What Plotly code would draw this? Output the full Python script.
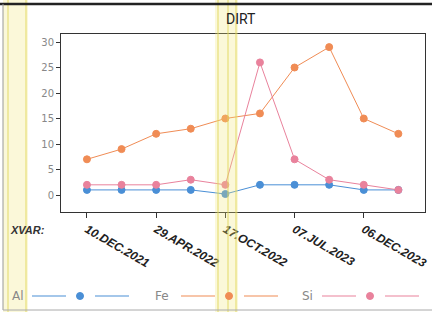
import plotly.graph_objects as go

# ---- data ----
x_idx = [0, 1, 2, 3, 4, 5, 6, 7, 8, 9]
tick_idx = [0, 2, 4, 6, 8]
tick_labels = ["10.DEC.2021", "29.APR.2022", "17.OCT.2022", "07.JUL.2023", "06.DEC.2023"]
al_vals = [1, 1, 1, 1, 0.2, 2, 2, 2, 1, 1]
fe_vals = [7, 9, 12, 13, 15, 16, 25, 29, 15, 12]
si_vals = [2, 2, 2, 3, 2, 26, 7, 3, 2, 1]
series_names = ["Al", "Fe", "Si"]
series_colors = ["#4a8fd6", "#f08c55", "#e9829c"]
series_vals = [al_vals, fe_vals, si_vals]

W, H = 432, 312
L, R, T, B = 61, 7, 34, 100
PW, PH = W - L - R, H - T - B


def px2paper_x(px):
    return (px - L) / PW


def px2paper_y(py):
    return (H - B - py) / PH


fig = go.Figure()
for name, col, vals in zip(series_names, series_colors, series_vals):
    fig.add_trace(go.Scatter(
        x=x_idx, y=vals, name=name, mode="lines+markers",
        line=dict(color=col, width=1),
        marker=dict(color=col, size=7, line=dict(color=col, width=1)),
        showlegend=False, cliponaxis=False,
    ))

shapes = []
# yellow highlight bands (scan artefacts)
for x0, x1 in [(3, 28), (215, 238)]:
    shapes.append(dict(type="rect", xref="paper", yref="paper",
                       x0=px2paper_x(x0), x1=px2paper_x(x1),
                       y0=px2paper_y(H), y1=px2paper_y(0),
                       fillcolor="rgba(240,230,120,0.28)", line=dict(width=0), layer="above"))
for xl in [8, 26, 218, 228, 236]:
    shapes.append(dict(type="line", xref="paper", yref="paper",
                       x0=px2paper_x(xl), x1=px2paper_x(xl),
                       y0=px2paper_y(H), y1=px2paper_y(0),
                       line=dict(color="rgba(225,215,90,0.45)", width=2), layer="above"))
# outer frame lines
shapes.append(dict(type="line", xref="paper", yref="paper",
                   x0=px2paper_x(0), x1=px2paper_x(W), y0=px2paper_y(4), y1=px2paper_y(4),
                   line=dict(color="#222", width=2.5)))
shapes.append(dict(type="line", xref="paper", yref="paper",
                   x0=px2paper_x(3), x1=px2paper_x(3), y0=px2paper_y(4), y1=px2paper_y(310),
                   line=dict(color="#999", width=1)))
shapes.append(dict(type="line", xref="paper", yref="paper",
                   x0=px2paper_x(3), x1=px2paper_x(W), y0=px2paper_y(310), y1=px2paper_y(310),
                   line=dict(color="#aaa", width=1)))

annotations = [
    dict(text="DIRT", xref="paper", yref="paper", x=px2paper_x(241), y=px2paper_y(19),
         xanchor="center", yanchor="middle",
         showarrow=False, font=dict(family="Roboto, Arial", size=14, color="#222")),
    dict(text="XVAR:", xref="paper", yref="paper", x=px2paper_x(8), y=px2paper_y(230),
         xanchor="left", yanchor="middle", showarrow=False,
         font=dict(family="Liberation Sans, Arial", size=11, color="#333", weight="bold", style="italic")),
]

# custom legend: label, line, marker, line
leg_y = px2paper_y(296)
leg_x = [10, 153, 300]
for name, col, lx in zip(series_names, series_colors, leg_x):
    annotations.append(dict(text=name, xref="paper", yref="paper", x=px2paper_x(lx), y=leg_y,
                            xanchor="left", yanchor="middle", showarrow=False,
                            font=dict(family="DejaVu Sans, Arial", size=12, color="#888")))
    s = lx + 22 if name != "Fe" else lx + 28
    for a, b in [(s, s + 34), (s + 63, s + 97)]:
        shapes.append(dict(type="line", xref="paper", yref="paper",
                           x0=px2paper_x(a), x1=px2paper_x(b), y0=leg_y, y1=leg_y,
                           line=dict(color=col, width=1.2)))
    cx = s + 48
    shapes.append(dict(type="circle", xref="paper", yref="paper",
                       xsizemode="pixel", ysizemode="pixel",
                       xanchor=px2paper_x(cx), yanchor=leg_y,
                       x0=-3.5, x1=3.5, y0=-3.5, y1=3.5,
                       fillcolor=col, line=dict(color=col, width=1)))

fig.update_layout(
    width=W, height=H,
    margin=dict(l=L, r=R, t=T, b=B, autoexpand=False),
    paper_bgcolor="white", plot_bgcolor="white",
    shapes=shapes, annotations=annotations,
    xaxis=dict(range=[-0.75, 9.77], tickmode="array", tickvals=tick_idx, ticktext=tick_labels,
               tickangle=30, ticks="outside", ticklen=5, tickcolor="#333", automargin=False,
               showgrid=False, zeroline=False, showline=True, linecolor="#333", mirror=True,
               tickfont=dict(family="Liberation Sans, Arial", size=12, color="#222",
                             weight="bold", style="italic")),
    yaxis=dict(range=[-3.33, 31.57], tickmode="array", tickvals=[0, 5, 10, 15, 20, 25, 30],
               ticks="outside", ticklen=4, tickcolor="#333", automargin=False,
               showgrid=False, zeroline=False, showline=True, linecolor="#333", mirror=True,
               tickfont=dict(family="DejaVu Sans, Arial", size=10, color="#888")),
    showlegend=False,
)

fig.write_html(
    "out.html",
    config={"displayModeBar": False},
    post_script="document.body.style.margin='0';document.body.style.overflow='hidden';",
)
